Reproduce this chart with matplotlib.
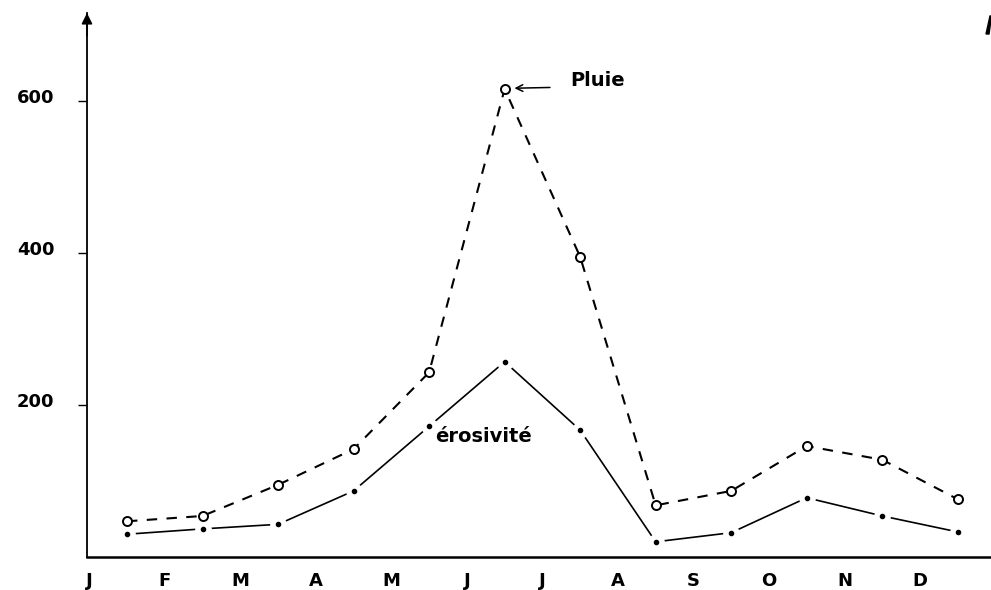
import matplotlib
matplotlib.use("Agg")
import matplotlib.pyplot as plt
import matplotlib.transforms as mtransforms
from matplotlib.patches import Polygon
import numpy as np

months = ['J', 'F', 'M', 'A', 'M', 'J', 'J', 'A', 'S', 'O', 'N', 'D']
pluie = [47, 54, 95, 142, 243, 616, 395, 68, 87, 146, 128, 76]
erosivite = [30, 37, 43, 87, 172, 257, 167, 20, 32, 78, 54, 33]
ytick_vals = [200, 400, 600]

plt.rcParams['font.family'] = ['DejaVu Sans']

W, H = 991, 590
fig = plt.figure(figsize=(W / 100, H / 100), dpi=100)
ax = fig.add_axes([87 / W, 33 / H, 1 - 87 / W, (557 - 13) / H])

x = np.arange(len(months))
x0, x1 = -0.53, 11.44
ymax = 716
ax.set_xlim(x0, x1)
ax.set_ylim(0, ymax)

# Pluie: dashed line with open circles
ax.plot(x, pluie, color='black', lw=1.5, dashes=(5, 4.5), zorder=2)
ax.plot(x, pluie, ls='none', marker='o', ms=6.5, mfc='white', mec='black',
        mew=1.4, zorder=4)

# Erosivité: solid line, small gaps at the dots
ax.plot(x, erosivite, color='black', lw=1.2, zorder=2)
ax.plot(x, erosivite, ls='none', marker='o', ms=11, mfc='white', mec='white',
        zorder=3)
ax.plot(x, erosivite, ls='none', marker='o', ms=3, mfc='black', mec='black',
        zorder=4)

# Axes styling
for s in ['top', 'right']:
    ax.spines[s].set_visible(False)
ax.spines['left'].set_linewidth(1.3)
ax.spines['bottom'].set_linewidth(1.8)

fs = 13
ax.set_yticks(ytick_vals)
ax.set_yticklabels([str(v) for v in ytick_vals], fontsize=fs, fontweight='bold')
ax.tick_params(axis='y', direction='out', length=6.5, width=1.0, pad=17)
offset = mtransforms.ScaledTranslation(0, 5 / 100, fig.dpi_scale_trans)
for lbl in ax.get_yticklabels():
    lbl.set_transform(lbl.get_transform() + offset)

ax.set_xticks(x - 0.5)
ax.set_xticklabels(months, fontsize=fs, fontweight='bold')
ax.tick_params(axis='x', length=0, pad=11)

# Arrow on the y axis
ax.annotate('', xy=(x0, ymax), xytext=(x0, ymax - 30),
            arrowprops=dict(arrowstyle='-|>', color='black', lw=1.2,
                            mutation_scale=16, shrinkA=0, shrinkB=0),
            annotation_clip=False)

# Annotations
ax.text(5.87, 620, 'Pluie', fontsize=14, fontweight='bold',
        ha='left', va='baseline')
ax.annotate('', xy=(5.13, 617), xytext=(5.60, 618),
            arrowprops=dict(arrowstyle='->', color='black', lw=1.1,
                            shrinkA=0, shrinkB=0, mutation_scale=12))
ax.text(4.08, 151, 'érosivité', fontsize=14, fontweight='bold',
        ha='left', va='baseline')

# cut-off mark at the top right corner
frag = Polygon([(986, H - 34), (989, H - 34), (991, H - 20), (991, H - 16),
                (990, H - 16)], closed=True, transform=None,
               facecolor='black', edgecolor='black')
fig.patches.append(frag)

fig.savefig('out.png', dpi=100)
